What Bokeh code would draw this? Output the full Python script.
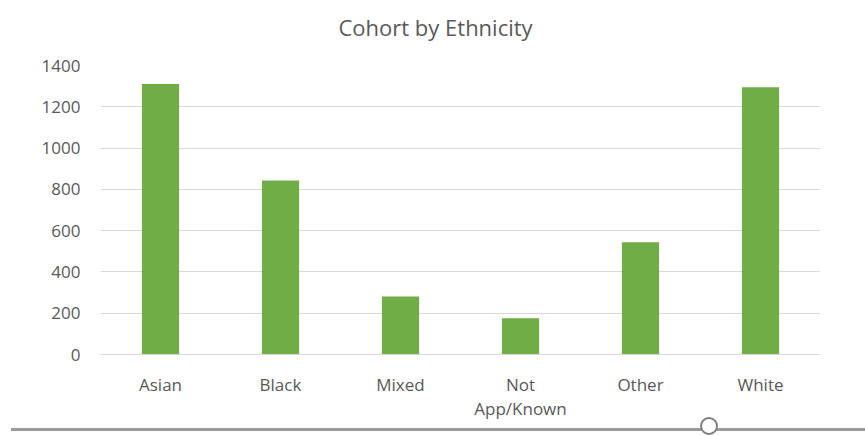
from bokeh.plotting import figure
from bokeh.models import FactorRange, Range1d, FixedTicker, ColumnDataSource, Div, Title
from bokeh.layouts import column
from bokeh.embed import file_html
from bokeh.resources import INLINE

# ---- data ----
categories = ["Asian", "Black", "Mixed", "Not\nApp/Known", "Other", "White"]
counts = [1310, 843, 281, 176, 544, 1295]
y_ticks = [0, 200, 400, 600, 800, 1000, 1200, 1400]
chart_title = "Cohort by Ethnicity"

FONT = "Open Sans"
TEXT = "#595959"
GRID = "#D9D9D9"
BAR = "#70AD47"

src = ColumnDataSource(dict(cat=categories, val=counts))

p = figure(
    width=865, height=423, title=None,
    x_range=FactorRange(factors=categories, range_padding=0),
    y_range=Range1d(0, 1400),
    output_backend="svg", toolbar_location=None,
    min_border_left=100, min_border_right=45,
    min_border_top=65, min_border_bottom=69,
)
p.vbar(x="cat", top="val", width=0.31, source=src, fill_color=BAR, line_color=None)

# gap between the frame and the title (added first, so it sits next to the frame)
p.add_layout(Title(text=" ", text_font_size="1px", standoff=21), "above")
p.add_layout(Title(
    text=chart_title, align="left", offset=238, vertical_align="bottom",
    text_font=FONT, text_font_size="22px", text_font_style="normal",
    text_color=TEXT, standoff=0,
), "above")

p.outline_line_color = None
p.xgrid.grid_line_color = None
p.ygrid.grid_line_color = GRID
p.ygrid.grid_line_width = 1

p.yaxis.ticker = FixedTicker(ticks=y_ticks)
p.yaxis.axis_line_color = None
p.yaxis.major_tick_line_color = None
p.yaxis.minor_tick_line_color = None
p.yaxis.major_label_text_font = FONT
p.yaxis.major_label_text_font_size = "17px"
p.yaxis.major_label_text_color = TEXT
p.yaxis.major_label_standoff = 14

p.xaxis.axis_line_color = GRID
p.xaxis.axis_line_width = 1
p.xaxis.major_tick_line_color = None
p.xaxis.minor_tick_line_color = None
p.xaxis.major_label_text_font = FONT
p.xaxis.major_label_text_font_size = "17px"
p.xaxis.major_label_text_color = TEXT
p.xaxis.major_label_standoff = 12
p.xaxis.major_label_text_line_height = 1.08

# slider strip below the chart (pure decoration)
slider = Div(
    width=865, height=12,
    text=(
        '<div style="position:relative;width:865px;height:12px;overflow:visible;">'
        '<div style="position:absolute;left:11px;width:854px;top:5px;height:3px;background:#9A9A9A;"></div>'
        '<div style="position:absolute;left:700px;top:-6px;width:18px;height:18px;box-sizing:border-box;'
        'border:2.5px solid #7F7F7F;border-radius:50%;background:#FFFFFF;"></div>'
        '</div>'
    ),
    styles={"overflow": "visible", "margin": "0", "padding": "0"},
)

layout = column(p, slider, spacing=0)
open("out.html", "w").write(file_html(layout, INLINE))
